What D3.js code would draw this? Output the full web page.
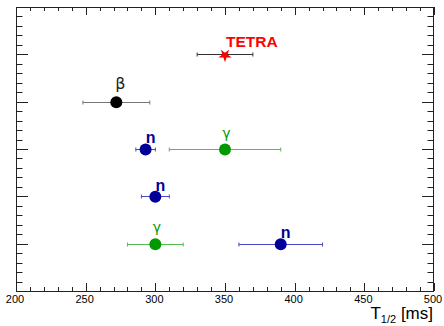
<!DOCTYPE html>
<html>
<head>
<meta charset="utf-8">
<script src="https://cdn.jsdelivr.net/npm/d3@7"></script>
<style>
  body { margin: 0; background: #fff; }
  svg { display: block; font-family: "Liberation Sans", Arial, sans-serif; }
</style>
</head>
<body>
<div class="canvas"></div>
<script>
// measurements, one entry per marker
const rows = [5, 4, 3, 3, 2, 1, 1];
const labels = ["TETRA", "β", "n", "γ", "n", "γ", "n"];
const kinds = ["tetra", "beta", "n", "gamma", "n", "gamma", "n"];
const halfLives = [350, 272, 293, 350, 300, 300, 390];
const errors = [20, 24, 7, 40, 10, 20, 30];
const xTicks = [200, 250, 300, 350, 400, 450, 500];

const width = 444, height = 326;
const margin = { top: 7, right: 10, bottom: 35, left: 16 };

// per-kind look
const styles = {
  tetra: { color: "#ff0000", bar: "#333", font: 'bold 15.5px "Liberation Sans"', dx: 1, dy: -7.5, anchor: "start" },
  beta:  { color: "#000000", bar: "#777", font: '16px "DejaVu Sans"', dx: 4, dy: -12.5, anchor: "middle", text: "#222" },
  n:     { color: "#000099", bar: "#4a4ac0", font: 'bold 16px "Liberation Sans"', dx: 5, dy: -5.7, anchor: "middle" },
  gamma: { color: "#009900", bar: "#55bb55", font: '14px "DejaVu Sans"', dx: 1.5, dy: -11.5, anchor: "middle" }
};

const svg = d3.select(".canvas").append("svg")
  .attr("width", width)
  .attr("height", height);

svg.append("rect").attr("width", width).attr("height", height).attr("fill", "#fff");

const x = d3.scaleLinear().domain([200, 500]).range([margin.left, width - margin.right]);
const y = d3.scaleLinear().domain([0, 6]).range([height - margin.bottom, margin.top]);

const frameColor = "#222";
const x0 = x.range()[0], x1 = x.range()[1], y0 = y.range()[0], y1 = y.range()[1];

// ticks: bottom/top for x, left/right for y
const ticks = svg.append("g").attr("stroke", frameColor).attr("stroke-width", 1);
const xMinor = d3.range(200, 501, 10);
xMinor.forEach(v => {
  const major = v % 50 === 0;
  const len = major ? 8 : 4;
  const px = Math.round(x(v)) + 0.5;
  ticks.append("line").attr("x1", px).attr("x2", px).attr("y1", y0).attr("y2", y0 - len);
  ticks.append("line").attr("x1", px).attr("x2", px).attr("y1", y1).attr("y2", y1 + len);
});
const yMinor = d3.range(0, 30.5, 1).map(d => d / 5);
yMinor.forEach((v, i) => {
  const major = i % 5 === 0;
  const len = major ? 12 : 6.5;
  const py = Math.round(y(v)) + 0.5;
  ticks.append("line").attr("x1", x0).attr("x2", x0 + len).attr("y1", py).attr("y2", py);
  ticks.append("line").attr("x1", x1).attr("x2", x1 - len).attr("y1", py).attr("y2", py);
});

// frame
svg.append("rect")
  .attr("x", x0 + 0.5).attr("y", y1 + 0.5)
  .attr("width", x1 - x0 - 1).attr("height", y0 - y1)
  .attr("fill", "none").attr("stroke", frameColor).attr("stroke-width", 1);

// x tick labels
svg.append("g").selectAll("text")
  .data(xTicks)
  .enter().append("text")
  .attr("x", d => x(d) - 1)
  .attr("y", 303)
  .attr("text-anchor", "middle")
  .style("font-size", "11px")
  .attr("fill", "#000")
  .text(d => d);

// axis title
const title = svg.append("text")
  .attr("x", 433)
  .attr("y", 319)
  .attr("text-anchor", "end")
  .style("font-size", "17px")
  .attr("fill", "#000");
title.append("tspan").text("T");
title.append("tspan").attr("dy", 4).style("font-size", "11px").text("1/2");
title.append("tspan").attr("dy", -4).text(" [ms]");

const points = halfLives.map((v, i) => ({
  x: v, err: errors[i], row: rows[i], label: labels[i], kind: kinds[i]
}));

// error bars
const bars = svg.append("g");
points.forEach(d => {
  const s = styles[d.kind];
  const py = Math.round(y(d.row)) + 0.5;
  bars.append("line")
    .attr("x1", x(d.x - d.err)).attr("x2", x(d.x + d.err))
    .attr("y1", py).attr("y2", py)
    .attr("stroke", s.bar).attr("stroke-width", 1);
  [d.x - d.err, d.x + d.err].forEach(e => {
    bars.append("line")
      .attr("x1", x(e)).attr("x2", x(e))
      .attr("y1", py - 2).attr("y2", py + 2)
      .attr("stroke", s.bar).attr("stroke-width", 1);
  });
});

// markers
const marks = svg.append("g");
points.forEach(d => {
  const s = styles[d.kind];
  if (d.kind === "tetra") {
    marks.append("path")
      .attr("d", d3.symbol(d3.symbolStar, 55)())
      .attr("transform", `translate(${x(d.x)},${y(d.row) + 1}) rotate(180)`)
      .attr("fill", s.color);
  } else {
    marks.append("circle")
      .attr("cx", x(d.x))
      .attr("cy", y(d.row) + 0.5)
      .attr("r", 6)
      .attr("fill", s.color);
  }
});

// labels
svg.append("g").selectAll("text")
  .data(points)
  .enter().append("text")
  .attr("x", d => x(d.x) + styles[d.kind].dx)
  .attr("y", d => y(d.row) + styles[d.kind].dy)
  .attr("text-anchor", d => styles[d.kind].anchor)
  .style("font", d => styles[d.kind].font + ", Arial, sans-serif")
  .attr("fill", d => styles[d.kind].text || styles[d.kind].color)
  .text(d => d.label);
</script>
</body>
</html>
